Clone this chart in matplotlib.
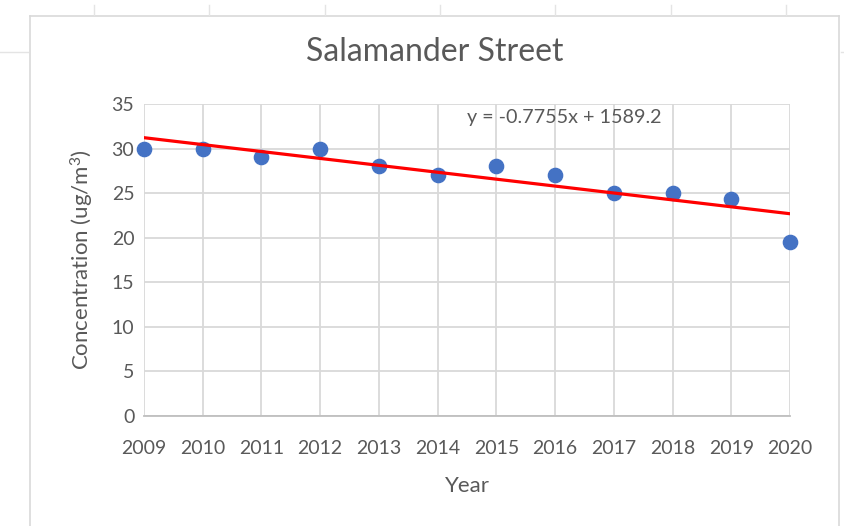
import matplotlib
matplotlib.use("Agg")
import matplotlib.pyplot as plt
from matplotlib.lines import Line2D
import numpy as np

years = [2009, 2010, 2011, 2012, 2013, 2014, 2015, 2016, 2017, 2018, 2019, 2020]
concentration = [30, 30, 29, 30, 28, 27, 28, 27, 25, 25, 24.3, 19.5]
trend_slope = -0.7755
trend_intercept = 1589.2
title = "Salamander Street"
xlabel = "Year"
ylabel = "Concentration (ug/m$^{3}$)"
equation = "y = -0.7755x + 1589.2"
yticks = [0, 5, 10, 15, 20, 25, 30, 35]

plt.rcParams['font.family'] = ['Lato', 'DejaVu Sans']
plt.rcParams['mathtext.fontset'] = 'custom'
plt.rcParams['mathtext.rm'] = 'Lato'
plt.rcParams['mathtext.it'] = 'Lato'
txt = '#595959'
grid = '#d9d9d9'

fig = plt.figure(figsize=(8.45, 5.26), dpi=100)
ax = fig.add_axes([144/845, 1-416/526, (790-144)/845, (416-104)/526])

# spreadsheet/chart frame artifacts
W, H = 845, 526
def fx(x): return x / W
def fy(y): return 1 - y / H
frame_col = '#d9d9d9'
fig.add_artist(Line2D([fx(30), fx(30)], [fy(16), fy(526)], color=frame_col, lw=1.2))
fig.add_artist(Line2D([fx(839), fx(839)], [fy(16), fy(526)], color=frame_col, lw=1.2))
fig.add_artist(Line2D([fx(30), fx(839)], [fy(16), fy(16)], color=frame_col, lw=1.2))
for xx in [94, 209, 325, 440, 555, 671, 786]:
    fig.add_artist(Line2D([fx(xx), fx(xx)], [fy(5), fy(15)], color='#e4e4e4', lw=1))
fig.add_artist(Line2D([fx(0), fx(28)], [fy(52), fy(52)], color='#e4e4e4', lw=1))
fig.add_artist(Line2D([fx(841), fx(845)], [fy(52), fy(52)], color='#e4e4e4', lw=1))

ax.scatter(years, concentration, s=105, color='#4472C4', zorder=3, clip_on=False)
xs = np.array([years[0], years[-1]])
ax.plot(xs, trend_slope * xs + trend_intercept, color='#FF0000', lw=2.3, zorder=4)

ax.set_xlim(years[0], years[-1])
ax.set_ylim(0, 35)
ax.set_xticks(years)
ax.set_yticks(yticks)
ax.grid(True, color=grid, lw=1.3)
ax.set_axisbelow(True)
for s in ['top', 'right', 'left']:
    ax.spines[s].set_visible(False)
ax.spines['bottom'].set_color('#bfbfbf')
ax.spines['bottom'].set_linewidth(1.3)
ax.tick_params(length=0, labelsize=14, colors=txt)
ax.tick_params(axis='x', pad=17)
ax.tick_params(axis='y', pad=7)

fig.text(434.5 / W, fy(52), title, fontsize=23, color=txt, ha='center', va='center')
ax.set_xlabel(xlabel, fontsize=16, color=txt, labelpad=14)
ax.set_ylabel(ylabel, fontsize=16, color=txt, labelpad=11)
ax.text(0.65, 0.958, equation, transform=ax.transAxes, fontsize=14.2, color=txt,
        ha='center', va='center')

fig.savefig('out.png', dpi=100)
